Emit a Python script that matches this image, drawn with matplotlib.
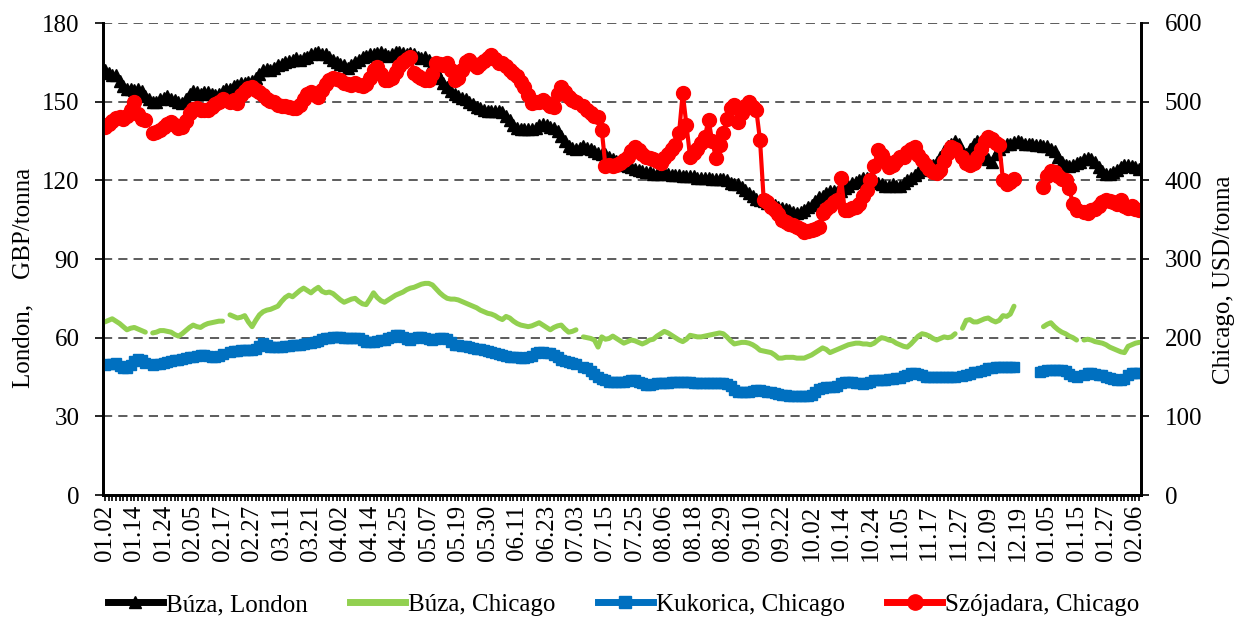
import matplotlib
matplotlib.use("Agg")
import matplotlib.pyplot as plt
import numpy as np
from matplotlib.lines import Line2D

# x tick labels, one every 8 trading days
tick_labels = ["01.02", "01.14", "01.24", "02.05", "02.17", "02.27", "03.11", "03.21",
               "04.02", "04.14", "04.25", "05.07", "05.19", "05.30", "06.11", "06.23",
               "07.03", "07.15", "07.25", "08.06", "08.18", "08.29", "09.10", "09.22",
               "10.02", "10.14", "10.24", "11.05", "11.17", "11.27", "12.09", "12.19",
               "01.05", "01.15", "01.27", "02.06"]
tick_step = 8

# Búza, London (GBP/tonna, left axis)
buza_london = [
    162, 161, 160, 160, 158, 156, 155, 155,
    154.5, 155, 154, 152, 151, 150, 150, 151,
    151.5, 152, 151, 150.5, 150, 149.5, 151, 153,
    154, 153.5, 153, 153.5, 153.5, 153, 152.5, 153,
    154, 155, 155, 156, 156.5, 157, 157, 157.5,
    158, 159, 160.5, 162, 162.5, 162, 163, 164,
    164.5, 165, 165.5, 166, 166.5, 166, 166.5, 167,
    168, 168.5, 169, 168, 168, 167, 166, 165,
    164.5, 164, 163, 164, 165, 166, 167, 167.5,
    168, 168, 168.5, 169, 168, 167.5, 168, 169,
    169, 168.5, 168, 168.5, 168, 167, 166.5, 167,
    166, 164, 162, 159, 157, 155.5, 154, 153,
    152, 151.5, 151, 150, 149, 148, 147.5, 147,
    146.5, 146.5, 146.5, 146.5, 146, 144.5, 143, 141,
    140, 139.5, 139.5, 139.5, 139.5, 140, 141, 141.5,
    141, 140.5, 140, 139, 137, 135, 133, 132.5,
    132, 132.5, 133, 132.5, 132, 131, 130.5, 130,
    130, 129, 128, 127.5, 127, 126, 125.5, 125,
    124.5, 124, 123.5, 123, 123, 122.5, 122.5, 122.5,
    123, 122.5, 122, 122, 122, 121.5, 121.5, 121.5,
    121.5, 121, 121, 121, 121, 120.5, 120.5, 120.5,
    120.5, 120, 119, 118.5, 118.5, 117.5, 116.5, 115,
    114, 113, 112.5, 112, 111.5, 111, 110.5, 110,
    109.5, 109, 108.5, 108, 107.5, 108, 108.5, 110,
    110.5, 112, 113.5, 114, 115, 116, 116, 115.5,
    116, 117, 118, 119, 119.5, 120, 121, 121,
    120.5, 120, 119, 118.5, 118, 118, 118.5, 118,
    118, 119, 120, 121, 122, 123, 124, 124.5,
    125, 126, 127, 129, 131, 133, 134, 135,
    134, 131, 130, 132, 134, 135, 131, 129,
    128, 127, 130, 132, 133, 134, 134, 134.5,
    135, 134.5, 134, 134, 134, 133.5, 133.5, 133,
    133, 132, 131, 129, 127, 126, 125.5, 126,
    126.5, 127, 128, 128.5, 128, 127, 125, 123.5,
    122.5, 122.5, 123, 124, 125, 126, 126, 125.5,
    125, 124.5,
]

# Búza, Chicago (USD/tonna, right axis)
buza_chicago = [
    220, 222, 224, 221, 218, 214, 210, 212,
    213, 211, 209, 207, None, 206, 207, 209,
    209, 208, 207, 204, 202, 205, 209, 213,
    216, 214, 213, 216, 218, 219, 220, 221,
    221, None, 229, 227, 225, 226, 228, 220,
    214, 222, 229, 233, 235, 236, 238, 240,
    246, 251, 254, 252, 256, 260, 263, 260,
    257, 261, 264, 259, 257, 258, 256, 252,
    248, 245, 247, 249, 250, 246, 243, 242,
    249, 257, 251, 247, 245, 248, 251, 254,
    256, 258, 261, 263, 264, 266, 268, 269,
    269, 267, 262, 257, 253, 250, 249, 249,
    248, 246, 244, 242, 240, 238, 235, 233,
    231, 230, 228, 225, 223, 227, 225, 221,
    218, 216, 215, 214, 215, 217, 219, 216,
    213, 210, 213, 215, 216, 211, 207, 208,
    210, None, 201, 200, 199, 197, 188, 201,
    198, 199, 202, 199, 196, 193, 195, 197,
    196, 194, 192, 194, 197, 198, 202, 205,
    208, 206, 203, 200, 197, 195, 198, 203,
    202, 201, 201, 202, 203, 204, 205, 206,
    205, 201, 196, 192, 193, 194, 194, 193,
    191, 188, 184, 183, 182, 181, 178, 174,
    174, 175, 175, 175, 174, 174, 174, 176,
    178, 181, 184, 187, 185, 181, 183, 185,
    187, 189, 191, 192, 193, 193, 192, 192,
    191, 193, 197, 200, 199, 197, 196, 193,
    191, 189, 188, 192, 197, 202, 205, 204,
    202, 199, 197, 199, 201, 200, 201, 205,
    None, 212, 222, 223, 220, 220, 222, 224,
    225, 222, 220, 222, 228, 227, 230, 240,
    None, None, None, None, None, None, None, 214,
    217, 219, 214, 210, 207, 205, 202, 200,
    197, None, 197, 198, 197, 195, 194, 193,
    191, 188, 186, 184, 182, 181, 189, 191,
    193, 194,
]

# Kukorica, Chicago (USD/tonna, right axis)
kukorica_chicago = [
    165, 166, 167, 168, 164, 162, 161, 165,
    170, 173, 171, 168, None, 165, 166, 167,
    168, 169, 170, 171, 172, 173, 174, 175,
    176, 177, 178, 178, 177, 176, 175, 177,
    179, None, 182, 183, 183, 184, 184, 184,
    184, 186, 189, 193, 191, 188, 188, 188,
    188, 189, 190, 191, 191, 191, 192, 193,
    193, 194, 196, 198, 200, 200, 201, 201,
    201, 200, 200, 200, 200, 199, 197, 195,
    194, 195, 196, 197, 197, 199, 201, 203,
    203, 201, 198, 197, 199, 201, 201, 200,
    198, 197, 198, 199, 200, 198, 194, 191,
    191, 190, 189, 188, 187, 186, 185, 184,
    183, 182, 181, 179, 178, 177, 176, 175,
    175, 174, 174, 175, 177, 180, 182, 182,
    181, 180, 178, 175, 172, 170, 169, 168,
    166, None, 163, 161, 158, 154, 150, 148,
    146, 144, 144, 144, 144, 144, 145, 146,
    146, 144, 142, 140, 140, 141, 142, 142,
    142, 143, 144, 144, 144, 144, 144, 144,
    143, 143, 142, 142, 142, 142, 142, 142,
    142, 141, 138, 134, 131, 131, 131, 131,
    132, 133, 133, 132, 131, 131, 130, 128,
    127, 127, 126, 126, 126, 126, 126, 126,
    127, 131, 135, 136, 137, 137, 137, 139,
    142, 144, 144, 144, 143, 142, 141, 142,
    144, 146, 146, 146, 146, 147, 148, 149,
    149, 151, 153, 155, 155, 154, 152, 150,
    150, 150, 150, 150, 150, 150, 150, 150,
    None, 151, 152, 154, 156, 156, 157, 159,
    161, 162, 163, 163, 163, 163, 163, 163,
    None, None, None, None, None, None, 156, 157,
    159, 159, 159, 159, 159, 157, 154, 151,
    150, None, 152, 155, 155, 154, 153, 152,
    150, 149, 148, 146, 146, 148, 152, 155,
    155, 155,
]

# Szójadara, Chicago (USD/tonna, right axis)
szojadara_chicago = [
    468, 472, 475, 479, 481, 478, 482, 490,
    500, 484, 478, 477, None, 460, 461, 464,
    468, 472, 474, 470, 467, 468, 476, 485,
    491, 492, 490, 489, 490, 493, 497, 500,
    504, None, 499, 502, 498, 508, 514, 518,
    519, 515, 512, 508, 503, 501, 499, 496,
    494, 494, 493, 492, 492, 496, 503, 510,
    512, 508, 506, 515, 522, 528, 530, 529,
    527, 524, 522, 521, 524, 521, 520, 522,
    530, 540, 544, 535, 528, 527, 530, 538,
    545, 550, 554, 557, 536, 532, 530, 528,
    527, 535, 549, 548, 547, 549, 540, 527,
    530, 540, 550, 553, 548, 544, 548, 552,
    556, 559, 554, 549, 549, 545, 540, 536,
    532, 525, 519, 508, 498, 499, 500, 502,
    498, 495, 493, 510, 519, 512, 506, 502,
    500, None, 495, 489, 486, 482, 480, 464,
    418, 420, 418, 420, 422, 426, 430, 437,
    442, 438, 433, 430, 428, 427, 425, 422,
    428, 434, 440, 445, 460, 511, 470, 430,
    435, 440, 448, 455, 477, 450, 429, 445,
    460, 478, 492, 496, 474, 485, 495, 500,
    493, 489, 451, 375, 372, 366, 362, 357,
    350, 347, 344, 343, 341, 338, 334, 335,
    337, 338, 341, 358, 364, 368, 372, 375,
    403, 362, 362, 365, 366, 370, 380, 388,
    400, 418, 438, 432, 425, 417, 420, 425,
    430, 430, 436, 440, 442, 432, 426, 420,
    415, 410, 409, 413, 425, 435, 442, 440,
    None, 430, 422, 420, 422, 430, 440, 450,
    455, 452, 448, 445, 400, 395, 398, 402,
    None, None, None, None, None, None, None, 392,
    405, 412, 410, 406, 402, 400, 390, 370,
    362, None, 360, 358, 362, 364, 368, 372,
    375, 374, 372, 370, 375, 368, 365, 368,
    364, 362,
]


def arr(values):
    return np.array([np.nan if v is None else v for v in values], dtype=float)


plt.rcParams['font.family'] = ['Liberation Serif', 'DejaVu Serif']
plt.rcParams['font.size'] = 18

fig = plt.figure(figsize=(12.35, 6.17), dpi=100)
ax = fig.add_axes([103 / 1235, 1 - 495 / 617, (1141 - 103) / 1235, (495 - 23) / 617])
ax2 = ax.twinx()

n = len(buza_london)
x = np.arange(n)

ax.plot(x, arr(buza_london), color='black', lw=3, marker='^', ms=8, zorder=3)
ax2.plot(x, arr(buza_chicago), color='#92D050', lw=3.6, solid_capstyle='round')
ax2.plot(x, arr(kukorica_chicago), color='#0070C0', lw=3, marker='s', ms=7)
ax2.plot(x, arr(szojadara_chicago), color='#FF0000', lw=3, marker='o', ms=10)

ax.set_xlim(-0.5, n - 0.5)
ax.set_ylim(0, 180)
ax.set_yticks(np.arange(0, 181, 30))
ax2.set_ylim(0, 600)
ax2.set_yticks(np.arange(0, 601, 100))

ax.grid(axis='y', color='#303030', lw=1.1, linestyle=(0, (6, 4)))
ax.set_axisbelow(True)

ax.set_xticks(np.arange(0, n, tick_step)[:len(tick_labels)])
ax.set_xticklabels(tick_labels, rotation=90)
ax.set_xticks(x, minor=True)
ax.tick_params(axis='x', which='both', direction='out', length=4, width=1.2, pad=3)
ax.tick_params(axis='y', direction='out', length=6, width=1.2, pad=11)
ax2.tick_params(axis='y', direction='out', length=6, width=1.2, pad=11)

for a in (ax, ax2):
    a.spines['top'].set_visible(False)
    for s in ('left', 'right', 'bottom'):
        a.spines[s].set_linewidth(2)

ax.set_ylabel("London,    GBP/tonna", labelpad=5, y=0.46)
ax2.set_ylabel("Chicago, USD/tonna", labelpad=8, y=0.455)

handles = [
    Line2D([], [], color='black', lw=5, marker='^', ms=9),
    Line2D([], [], color='#92D050', lw=5),
    Line2D([], [], color='#0070C0', lw=5, marker='s', ms=8),
    Line2D([], [], color='#FF0000', lw=5, marker='o', ms=11),
]
labels = ["Búza, London", "Búza, Chicago", "Kukorica, Chicago", "Szójadara, Chicago"]
fig.legend(handles, labels, loc='lower center', bbox_to_anchor=(0.505, -0.035), ncol=4,
           frameon=False, handlelength=2.2, handletextpad=0.12, columnspacing=1.7)

fig.savefig("out.png", dpi=100)
